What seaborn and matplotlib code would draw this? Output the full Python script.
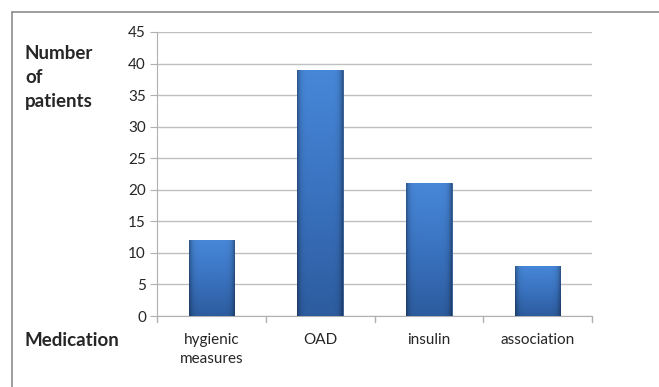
import numpy as np
import pandas as pd
import seaborn as sns
import matplotlib.pyplot as plt
from matplotlib.colors import LinearSegmentedColormap
from matplotlib.lines import Line2D

# data
medication = ["hygienic\nmeasures", "OAD", "insulin", "association"]
patients = [12, 39, 21, 8]
y_ticks = [0, 5, 10, 15, 20, 25, 30, 35, 40, 45]

df = pd.DataFrame({"Medication": medication, "Patients": patients})

sns.set_style("white")
plt.rcParams["font.family"] = ["Lato", "DejaVu Sans"]

fig = plt.figure(figsize=(6.59, 3.87), dpi=100)
ax = fig.add_axes([157 / 659, 1 - 316 / 387, (592 - 157) / 659, (316 - 32) / 387])

sns.barplot(data=df, x="Medication", y="Patients", color="#3b78c6",
            width=0.42, ax=ax, zorder=3)

# excel-like shading: lighter top, darker bottom, darker side edges
vert = LinearSegmentedColormap.from_list("bar", ["#2d5c9f", "#3a73c0", "#4787d8"])
v = np.linspace(0, 1, 64).reshape(-1, 1)
h = np.linspace(-1, 1, 48).reshape(1, -1)
shade = np.clip(1 - 0.35 * np.abs(h) ** 8, 0, 1)
rgb = np.broadcast_to(vert(v)[:, :, :3], (64, 48, 3)) * shade[:, :, None]
for p in ax.patches:
    x0, y0 = p.get_x(), p.get_y()
    w, ht = p.get_width(), p.get_height()
    im = ax.imshow(rgb, aspect="auto", extent=[x0, x0 + w, y0, y0 + ht],
                   origin="lower", zorder=4, interpolation="bilinear")
    im.set_clip_path(p)
    p.set_edgecolor("#2a5590")
    p.set_linewidth(0.6)
ax.set_xlim(-0.5, 3.5)
ax.set_ylim(0, 45)

ax.set_yticks(y_ticks)
ax.yaxis.grid(True, color="#c0c0c0", linewidth=1, zorder=0)
ax.set_xlabel("")
ax.set_ylabel("")
for s in ["top", "right"]:
    ax.spines[s].set_visible(False)
ax.spines["left"].set_color("#b0b0b0")
ax.spines["bottom"].set_color("#b0b0b0")
ax.tick_params(axis="y", left=True, length=5, color="#b0b0b0", labelsize=11,
               pad=3, labelcolor="#262626")
ax.tick_params(axis="x", bottom=False, labelsize=11, pad=9, labelcolor="#262626")
for t in ax.get_xticklabels():
    t.set_linespacing(1.45)
# x tick marks between categories
for xb in [-0.5, 0.5, 1.5, 2.5, 3.5]:
    ax.plot([xb, xb], [0, -0.9], color="#b0b0b0", lw=1, clip_on=False)

fig.text(25 / 659, 1 - 45 / 387, "Number\nof\npatients", fontsize=13.5,
         fontweight="bold", va="top", ha="left", linespacing=1.5)
fig.text(25 / 659, 1 - 340 / 387, "Medication", fontsize=13.5,
         fontweight="bold", va="center", ha="left")

# outer chart border (runs off the right and bottom edges)
fig.add_artist(Line2D([12 / 659, 1], [1 - 12 / 387] * 2, color="#8c8c8c", lw=1.2))
fig.add_artist(Line2D([12 / 659] * 2, [0, 1 - 12 / 387], color="#8c8c8c", lw=1.2))

fig.savefig("out.png", dpi=100)
